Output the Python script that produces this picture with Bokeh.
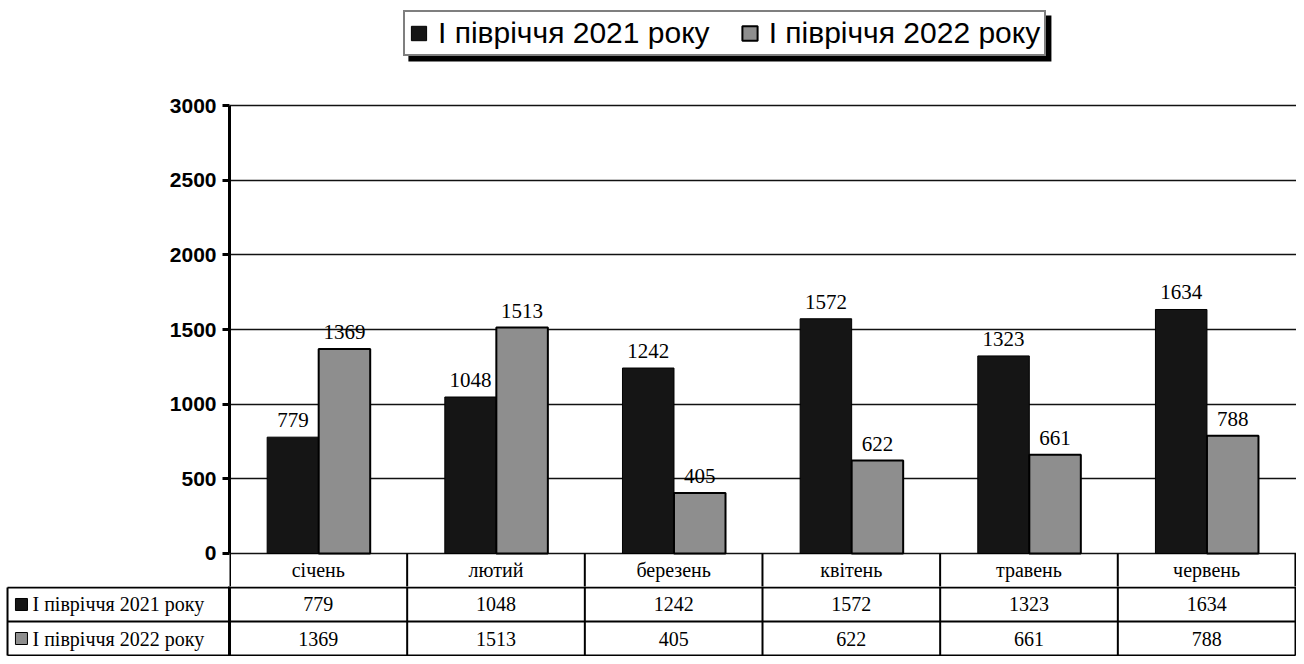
import numpy as np
from bokeh.plotting import figure
from bokeh.layouts import column
from bokeh.models import Range1d, FixedTicker, Legend, LegendItem, BoxAnnotation
from bokeh.core.properties import value
from bokeh.embed import file_html
from bokeh.resources import INLINE

# ---- data ----
months = ["січень", "лютий", "березень", "квітень", "травень", "червень"]
h1_2021 = [779, 1048, 1242, 1572, 1323, 1634]
h1_2022 = [1369, 1513, 405, 622, 661, 788]
series_names = ["І півріччя 2021 року", "І півріччя 2022 року"]
y_ticks = [0, 500, 1000, 1500, 2000, 2500, 3000]

DARK = "#151515"
GRAY = "#8e8e8e"
SERIF = value("Liberation Serif")

idx = np.arange(len(months))
x1 = idx + 0.357
x2 = idx + 0.647
bw = 0.29

# ---- chart (with the month row of the table) ----
Y_BOT = -221.0
p = figure(width=1296, height=586, x_range=Range1d(0, 6.006), y_range=Range1d(Y_BOT, 3703.2),
           output_backend="svg", toolbar_location=None, x_axis_location=None,
           min_border_left=229, min_border_right=0, min_border_top=0, min_border_bottom=0,
           frame_align=False)
p.outline_line_color = None
p.background_fill_color = "white"
p.xgrid.visible = False
p.ygrid.ticker = FixedTicker(ticks=y_ticks)
p.ygrid.grid_line_color = "#111111"
p.ygrid.grid_line_width = 1.5

ax = p.yaxis[0]
ax.ticker = FixedTicker(ticks=y_ticks)
ax.bounds = (0, 3000)
ax.axis_line_width = 3
ax.major_tick_line_width = 3
ax.major_tick_out = 7
ax.major_tick_in = 0
ax.minor_tick_out = 0
ax.minor_tick_in = 0
ax.major_label_standoff = 6
ax.major_label_text_font = "Liberation Sans"
ax.major_label_text_font_style = "bold"
ax.major_label_text_font_size = "21px"
ax.major_label_text_color = "black"

# legend shadow
p.add_layout(BoxAnnotation(left=1.007, right=4.6265, top=3602.7, bottom=3294.7,
                           fill_color="black", fill_alpha=1, line_alpha=0))

r1 = p.vbar(x=x1, top=h1_2021, width=bw, fill_color=DARK, line_color="black", line_width=1)
r2 = p.vbar(x=x2, top=h1_2022, width=bw, fill_color=GRAY, line_color="black", line_width=2)

p.text(x=x1, y=h1_2021, text=[str(v) for v in h1_2021], text_font=SERIF, text_font_size="21px",
       text_align="center", text_baseline="alphabetic", y_offset=-17, text_color="black")
p.text(x=x2, y=h1_2022, text=[str(v) for v in h1_2022], text_font=SERIF, text_font_size="21px",
       text_align="center", text_baseline="alphabetic", y_offset=-17, text_color="black")

# month row of the data table
p.segment(x0=list(range(1, 7)), y0=[0] * 6, x1=list(range(1, 7)), y1=[Y_BOT] * 6,
          line_color="black", line_width=2)
p.segment(x0=[0], y0=[0], x1=[0], y1=[Y_BOT], line_color="black", line_width=3)
p.text(x=idx + 0.5, y=[Y_BOT / 2] * 6, text=months, text_font=SERIF, text_font_size="20px",
       text_align="center", text_baseline="middle", text_color="black")

legend = Legend(items=[LegendItem(label=series_names[0], renderers=[r1]),
                       LegendItem(label=series_names[1], renderers=[r2])],
                location=(174, 530), orientation="horizontal",
                label_text_font="Liberation Sans", label_text_font_size="30px",
                label_text_color="black", glyph_width=19, glyph_height=18,
                label_standoff=10, spacing=30, padding=4, margin=0,
                border_line_color="black", border_line_width=2,
                background_fill_color="white", background_fill_alpha=1)
p.add_layout(legend, "center")

# ---- value rows of the data table ----
t = figure(width=1296, height=70, x_range=Range1d(-1.289, 6.0056), y_range=Range1d(3.0294, 0.9706),
           output_backend="svg", toolbar_location=None, x_axis_location=None, y_axis_location=None,
           min_border_left=0, min_border_right=0, min_border_top=0, min_border_bottom=0,
           frame_align=False)
t.outline_line_color = None
t.xgrid.visible = False
t.ygrid.visible = False

xl = -1.2495
t.segment(x0=[xl, xl, xl], y0=[1, 2, 3], x1=[6, 6, 6], y1=[1, 2, 3], line_color="black", line_width=2)
t.segment(x0=list(range(1, 7)), y0=[0.9] * 6, x1=list(range(1, 7)), y1=[3] * 6,
          line_color="black", line_width=2)
t.segment(x0=[0], y0=[0.9], x1=[0], y1=[3], line_color="black", line_width=3)
t.segment(x0=[xl], y0=[1], x1=[xl], y1=[3], line_color="black", line_width=2)

t.text(x=idx + 0.5, y=[1.5] * 6, text=[str(v) for v in h1_2021], text_font=SERIF, text_font_size="20px",
       text_align="center", text_baseline="middle", text_color="black")
t.text(x=idx + 0.5, y=[2.5] * 6, text=[str(v) for v in h1_2022], text_font=SERIF, text_font_size="20px",
       text_align="center", text_baseline="middle", text_color="black")

t.scatter(x=[-1.171, -1.171], y=[1.5, 2.5], marker="square", size=12,
          fill_color=[DARK, GRAY], line_color="black", line_width=1)
t.text(x=[-1.109, -1.109], y=[1.5, 2.5], text=series_names, text_font=SERIF, text_font_size="20px",
       text_align="left", text_baseline="middle", text_color="black")

layout = column(p, t, spacing=0)
open("out.html", "w").write(file_html(layout, INLINE))
